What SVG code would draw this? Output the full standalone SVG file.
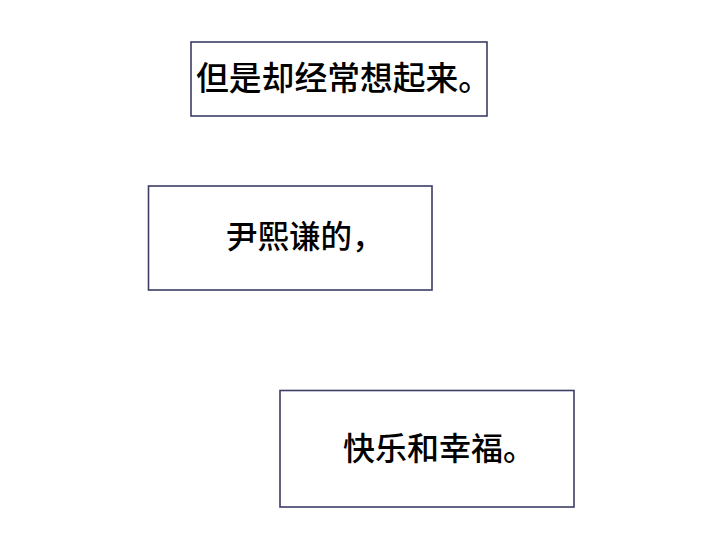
<svg xmlns="http://www.w3.org/2000/svg" width="720" height="559" viewBox="0 0 720 559">
<style>
.box{fill:#ffffff;stroke:#3c3c66;stroke-width:1.6}
.t{font-family:"Noto Sans CJK SC","Noto Sans",sans-serif;fill:#000000;font-weight:500}
</style>
<rect width="720" height="559" fill="#ffffff"/>
<g id="node1">
<rect class="box" x="191" y="42" width="296" height="74"/>
<text class="t" x="196" y="90" font-size="32.8">但是却经常想起来。</text>
</g>
<g id="node2">
<rect class="box" x="148.5" y="186" width="283.5" height="104"/>
<text class="t" x="226" y="248" font-size="31.5">尹熙谦的，</text>
</g>
<g id="node3">
<rect class="box" x="280" y="390.5" width="294" height="116.5"/>
<text class="t" x="343" y="460" font-size="32">快乐和幸福。</text>
</g>
<g id="connectors"></g>
</svg>
